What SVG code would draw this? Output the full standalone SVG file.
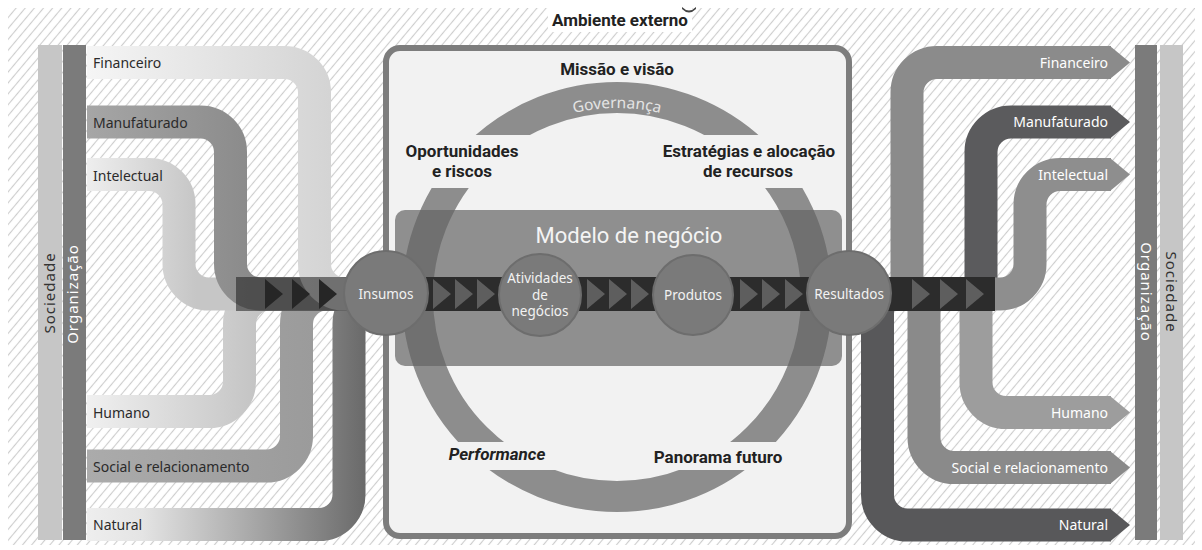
<svg xmlns="http://www.w3.org/2000/svg" width="1202" height="550" viewBox="0 0 1202 550">
<defs>
<style>
.ll{font-family:"Noto Sans","Liberation Sans",sans-serif;font-size:14px;fill:#2b2b2b}
.lr{font-family:"Noto Sans","Liberation Sans",sans-serif;font-size:14px;fill:#ffffff;text-anchor:end}
.cl{font-family:"Noto Sans","Liberation Sans",sans-serif;font-size:13.5px;fill:#f2f2f2;text-anchor:middle}
.bd{font-family:Roboto,"Liberation Sans",sans-serif;font-weight:700;font-size:17px;fill:#222;text-anchor:middle}
.side{font-family:"Noto Sans","Liberation Sans",sans-serif;font-size:15px;letter-spacing:1px;text-anchor:middle}
.band{fill:none;stroke-width:33}
.bar{fill:#2c2c2c}
.chev{fill:#5e5e5e}
.circ{fill:#7a7a7a;stroke:#6d6d6d;stroke-width:2}
</style>
<pattern id="hatch" patternUnits="userSpaceOnUse" width="7" height="10" patternTransform="rotate(40)">
<rect width="7" height="10" fill="#ffffff"/>
<line x1="3.5" y1="0" x2="3.5" y2="10" stroke="#cdcdcd" stroke-width="1.1"/>
</pattern>
<linearGradient id="gFin" gradientUnits="userSpaceOnUse" x1="87" y1="0" x2="330" y2="0"><stop offset="0" stop-color="#f5f5f5"/><stop offset="1" stop-color="#d4d4d4"/></linearGradient>
<linearGradient id="gMan" gradientUnits="userSpaceOnUse" x1="87" y1="0" x2="248" y2="0"><stop offset="0" stop-color="#a6a6a6"/><stop offset="1" stop-color="#8b8b8b"/></linearGradient>
<linearGradient id="gInt" gradientUnits="userSpaceOnUse" x1="87" y1="0" x2="196" y2="0"><stop offset="0" stop-color="#eeeeee"/><stop offset="1" stop-color="#c6c6c6"/></linearGradient>
<linearGradient id="gHum" gradientUnits="userSpaceOnUse" x1="87" y1="0" x2="257" y2="0"><stop offset="0" stop-color="#f0f0f0"/><stop offset="1" stop-color="#c4c4c4"/></linearGradient>
<linearGradient id="gSoc" gradientUnits="userSpaceOnUse" x1="87" y1="0" x2="313" y2="0"><stop offset="0" stop-color="#ababab"/><stop offset="1" stop-color="#9b9b9b"/></linearGradient>
<linearGradient id="gNat" gradientUnits="userSpaceOnUse" x1="87" y1="0" x2="365" y2="0"><stop offset="0" stop-color="#eeeeee"/><stop offset="0.2" stop-color="#e4e4e4"/><stop offset="1" stop-color="#6a6a6a"/></linearGradient>
<clipPath id="ringClip">
<rect x="0" y="0" width="1202" height="135"/>
<rect x="0" y="188" width="1202" height="254"/>
<rect x="0" y="470" width="1202" height="80"/>
</clipPath>
<path id="govArc" d="M428,297 A189,189 0 0 1 806,297"/>
</defs>

<rect width="1202" height="550" fill="#ffffff"/>
<rect x="8" y="8" width="1187" height="537" fill="url(#hatch)"/>
<rect x="548" y="8" width="144" height="24" fill="#ffffff"/>

<g id="ambiente">
<text x="620" y="26" class="bd">Ambiente externo</text>
<path d="M682,7 Q689,14 696,7 L696,9 Q689,16 682,9 Z" fill="#444"/>
</g>

<g id="left-side">
<rect x="38" y="45" width="24" height="495" fill="#c6c6c6"/>
<rect x="63" y="45" width="23" height="495" fill="#7b7b7b"/>
<text class="side" fill="#333" transform="translate(55,293) rotate(-90)">Sociedade</text>
<text class="side" fill="#ffffff" transform="translate(78,294) rotate(-90)">Organização</text>
</g>
<g id="right-side">
<rect x="1135" y="45" width="22" height="495" fill="#7b7b7b"/>
<rect x="1160" y="45" width="23" height="495" fill="#c6c6c6"/>
<text class="side" fill="#ffffff" transform="translate(1141,292) rotate(90)">Organização</text>
<text class="side" fill="#333" transform="translate(1166,292) rotate(90)">Sociedade</text>
</g>

<g id="organizacao">
<rect x="386" y="48" width="463" height="488" rx="14" fill="#f2f2f2" stroke="#7d7d7d" stroke-width="6"/>
<rect x="395" y="210" width="447" height="156" rx="10" fill="#8f8f8f"/>
<text x="629" y="243" font-family="Roboto,'Liberation Sans',sans-serif" font-size="22" fill="#f4f4f4" text-anchor="middle">Modelo de negócio</text>
<circle cx="617" cy="297" r="199.5" fill="none" stroke="#636363" stroke-opacity="0.7" stroke-width="31" clip-path="url(#ringClip)"/>
<text font-family="'Noto Sans','Liberation Sans',sans-serif" font-size="15.5" fill="#e4e4e4"><textPath href="#govArc" startOffset="50%" text-anchor="middle">Governança</textPath></text>
<text x="617" y="75" class="bd">Missão e visão</text>
<text x="462" y="157" class="bd">Oportunidades</text>
<text x="462" y="177" class="bd">e riscos</text>
<text x="749" y="157" class="bd">Estratégias e alocação</text>
<text x="748" y="177" class="bd">de recursos</text>
<text x="497" y="460" class="bd" font-style="italic">Performance</text>
<text x="718" y="463" class="bd">Panorama futuro</text>
</g>

<g id="connectors">
<g id="inputs">
<path class="band" stroke="url(#gNat)" d="M87,524.5 H319 A30,30 0 0 0 349,494.5 V324 A30,30 0 0 1 379,294 H390"/>
<path class="band" stroke="url(#gSoc)" d="M87,466 H266.5 A30,30 0 0 0 296.5,436 V324 A30,30 0 0 1 326.5,294 H360"/>
<path class="band" stroke="url(#gHum)" d="M87,411.5 H209.5 A30,30 0 0 0 239.5,381.5 V324 A30,30 0 0 1 269.5,294 H360"/>
<path class="band" stroke="url(#gInt)" d="M87,174.5 H149 A30,30 0 0 1 179,204.5 V264 A30,30 0 0 0 209,294 H360"/>
<path class="band" stroke="url(#gMan)" d="M87,122 H200.5 A30,30 0 0 1 230.5,152 V264 A30,30 0 0 0 260.5,294 H360"/>
<path class="band" stroke="url(#gFin)" d="M87,62.5 H284.5 A30,30 0 0 1 314.5,92.5 V264 A30,30 0 0 0 344.5,294 H360"/>
<rect x="236" y="277" width="120" height="34" fill="#1e1e1e" fill-opacity="0.55"/>
<path fill="#262626" d="M265,279 L283,294 L265,309 Z M292,279 L310,294 L292,309 Z M319,279 L337,294 L319,309 Z"/>
</g>
<g id="outputs">
<path class="band" stroke="#58585a" d="M877.5,290 V495 A30,30 0 0 0 907.5,525 H1111"/>
<path fill="#58585a" d="M1110,508.5 L1130,525 L1110,541.5 Z"/>
<path class="band" stroke="#8a8a8a" d="M924,290 V437.5 A30,30 0 0 0 954,467.5 H1111"/>
<path fill="#8a8a8a" d="M1110,451 L1130,467.5 L1110,484 Z"/>
<path class="band" stroke="#9d9d9d" d="M976,290 V382.5 A30,30 0 0 0 1006,412.5 H1111"/>
<path fill="#9d9d9d" d="M1110,396 L1130,412.5 L1110,429 Z"/>
<path class="band" stroke="#8b8b8b" d="M907,300 V92.5 A30,30 0 0 1 937,62.5 H1111"/>
<path fill="#8b8b8b" d="M1110,46 L1130,62.5 L1110,79 Z"/>
<path class="band" stroke="#5b5b5d" d="M981,300 V152 A30,30 0 0 1 1011,122 H1111"/>
<path fill="#5b5b5d" d="M1110,105.5 L1130,122 L1110,138.5 Z"/>
<path class="band" stroke="#8e8e8e" d="M985,294 H1000 A30,30 0 0 0 1030,264 V204.5 A30,30 0 0 1 1060,174.5 H1111"/>
<path fill="#8e8e8e" d="M1110,158 L1130,174.5 L1110,191 Z"/>
<rect x="880" y="277" width="115" height="34" class="bar"/>
<path class="chev" d="M912,279 L930,294 L912,309 Z M940,279 L958,294 L940,309 Z M966,279 L984,294 L966,309 Z"/>
</g>
<g id="flow">
<rect x="420" y="277" width="86" height="34" class="bar"/>
<rect x="574" y="277" width="84" height="34" class="bar"/>
<rect x="728" y="277" width="86" height="34" class="bar"/>
<path class="chev" d="M433,279 L451,294 L433,309 Z M455,279 L473,294 L455,309 Z M477,279 L495,294 L477,309 Z"/>
<path class="chev" d="M587,279 L605,294 L587,309 Z M609,279 L627,294 L609,309 Z M631,279 L649,294 L631,309 Z"/>
<path class="chev" d="M740,279 L758,294 L740,309 Z M762,279 L780,294 L762,309 Z M785,279 L803,294 L785,309 Z"/>
</g>
</g>

<g id="insumos"><circle cx="386" cy="293" r="42" class="circ"/><text x="386" y="299" class="cl">Insumos</text></g>
<g id="atividades"><circle cx="540" cy="295" r="41" class="circ"/><text x="540" y="283" class="cl">Atividades</text><text x="540" y="300" class="cl">de</text><text x="540" y="316" class="cl">negócios</text></g>
<g id="produtos"><circle cx="693" cy="295" r="40" class="circ"/><text x="693" y="300" class="cl">Produtos</text></g>
<g id="resultados"><circle cx="849" cy="293" r="42" class="circ"/><text x="849" y="299" class="cl">Resultados</text></g>

<g id="input-labels">
<text x="93" y="68" class="ll">Financeiro</text>
<text x="93" y="128" class="ll">Manufaturado</text>
<text x="93" y="181" class="ll">Intelectual</text>
<text x="93" y="418" class="ll">Humano</text>
<text x="93" y="472" class="ll">Social e relacionamento</text>
<text x="93" y="530" class="ll">Natural</text>
</g>
<g id="output-labels">
<text x="1108" y="68" class="lr">Financeiro</text>
<text x="1108" y="127" class="lr">Manufaturado</text>
<text x="1108" y="180" class="lr">Intelectual</text>
<text x="1108" y="418" class="lr">Humano</text>
<text x="1108" y="473" class="lr">Social e relacionamento</text>
<text x="1108" y="530" class="lr">Natural</text>
</g>
</svg>
